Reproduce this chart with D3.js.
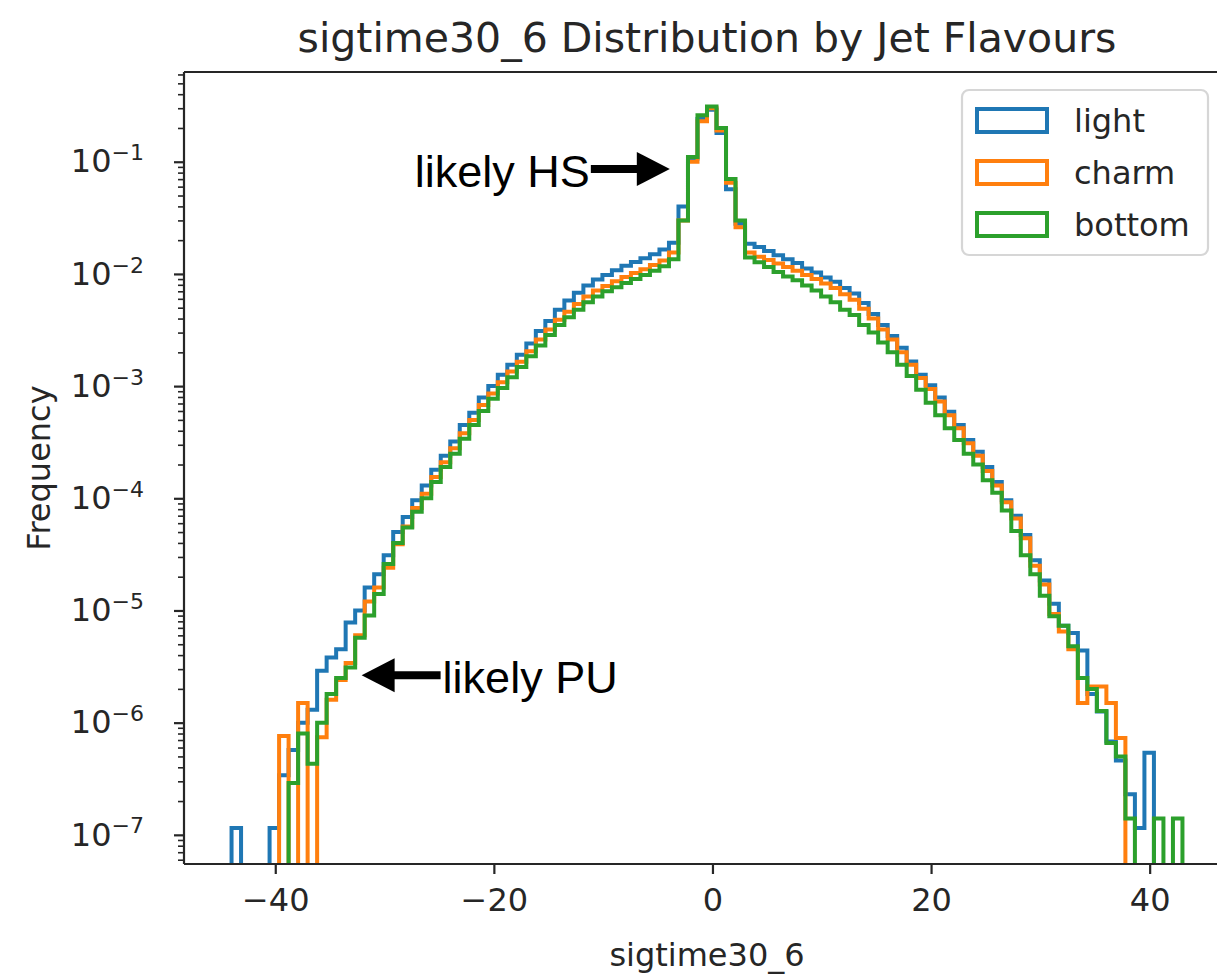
<!DOCTYPE html>
<html>
<head>
    <meta charset="utf-8">
    <title>sigtime30_6 Distribution by Jet Flavours</title>
    <style type="text/css">
        body {
            margin: 0;
            background: #ffffff;
        }

        svg text {
            font-family: "DejaVu Sans", sans-serif;
            fill: #262626;
        }

        .note {
            font-family: "Liberation Sans", Arial, sans-serif;
            fill: #000000;
        }

        .hist-line {
            fill: none;
            stroke-width: 4px;
            stroke-linejoin: miter;
        }
    </style>
</head>
<body>
    <div id="chart"></div>
    <script src="https://cdn.jsdelivr.net/npm/d3@7"></script>
    <script>

      //  Histogram binning (100 bins shared by all flavours)
      var binStart = -44,
          binEnd = 43,
          binCount = 100;

      var flavours = ["light", "charm", "bottom"];
      var flavourColors = ["#1f77b4", "#ff7f0e", "#2ca02c"];

      //  Normalised frequency per bin (0 = empty bin)
      var lightValues = [
        1.15e-7, 0, 0, 0, 1.15e-7, 3.4e-7, 5.7e-7, 1.0e-6, 1.3e-6, 2.9e-6,
        3.8e-6, 4.5e-6, 7.8e-6, 1.0e-5, 1.6e-5, 2.1e-5, 3.1e-5, 5.0e-5, 6.8e-5, 9.6e-5,
        1.3e-4, 1.8e-4, 2.4e-4, 3.2e-4, 4.5e-4, 5.8e-4, 7.9e-4, 1.0e-3, 1.26e-3, 1.55e-3,
        1.9e-3, 2.4e-3, 3.1e-3, 3.8e-3, 4.8e-3, 5.8e-3, 6.8e-3, 7.9e-3, 8.9e-3, 9.8e-3,
        1.08e-2, 1.18e-2, 1.28e-2, 1.38e-2, 1.5e-2, 1.65e-2, 1.9e-2, 4.0e-2, 0.107, 0.24,
        0.29, 0.18, 0.057, 0.028, 0.0186, 0.0174, 0.016, 0.0147, 0.0135, 0.0125,
        0.0112, 0.0103, 0.0093, 0.0085, 0.0075, 0.0067, 0.0055, 0.0044, 0.0035, 0.0028,
        0.0022, 0.00166, 0.00126, 0.00102, 7.9e-4, 5.9e-4, 4.5e-4, 3.3e-4, 2.6e-4, 1.9e-4,
        1.4e-4, 9.6e-5, 7.0e-5, 4.7e-5, 2.8e-5, 1.85e-5, 1.15e-5, 7.3e-6, 6.3e-6, 4.4e-6,
        1.8e-6, 1.26e-6, 6.8e-7, 4.6e-7, 2.3e-7, 1.15e-7, 5.4e-7, 0, 0, 0
      ];

      var charmValues = [
        0, 0, 0, 0, 0, 7.6e-7, 0, 1.5e-6, 0, 7.4e-7,
        1.6e-6, 2.4e-6, 3.4e-6, 6.0e-6, 1.2e-5, 1.6e-5, 2.4e-5, 3.9e-5, 5.6e-5, 8.2e-5,
        1.1e-4, 1.55e-4, 2.1e-4, 2.8e-4, 3.8e-4, 5.0e-4, 6.8e-4, 8.6e-4, 1.08e-3, 1.35e-3,
        1.65e-3, 2.05e-3, 2.6e-3, 3.2e-3, 3.9e-3, 4.6e-3, 5.4e-3, 6.3e-3, 7.1e-3, 7.8e-3,
        8.6e-3, 9.4e-3, 1.02e-2, 1.1e-2, 1.2e-2, 1.32e-2, 1.55e-2, 3.0e-2, 0.10, 0.23,
        0.30, 0.19, 0.065, 0.026, 0.0155, 0.0142, 0.0133, 0.0124, 0.0115, 0.0107,
        0.0098, 0.0090, 0.0082, 0.0075, 0.0066, 0.0059, 0.0049, 0.0040, 0.0032, 0.0026,
        0.0020, 0.00155, 0.00118, 9.4e-4, 7.3e-4, 5.5e-4, 4.2e-4, 3.1e-4, 2.4e-4, 1.75e-4,
        1.3e-4, 9.2e-5, 6.6e-5, 4.4e-5, 2.5e-5, 1.7e-5, 9.3e-6, 6.5e-6, 4.5e-6, 1.5e-6,
        2.1e-6, 2.1e-6, 1.5e-6, 7.3e-7, 0, 0, 0, 0, 0, 0
      ];

      var bottomValues = [
        0, 0, 0, 0, 0, 0, 2.9e-7, 8.0e-7, 4.3e-7, 1.0e-6,
        1.8e-6, 2.5e-6, 3.1e-6, 5.7e-6, 9.0e-6, 1.4e-5, 2.6e-5, 4.0e-5, 5.5e-5, 7.6e-5,
        1.0e-4, 1.4e-4, 1.9e-4, 2.5e-4, 3.4e-4, 4.5e-4, 6.0e-4, 7.7e-4, 9.6e-4, 1.2e-3,
        1.48e-3, 1.85e-3, 2.3e-3, 2.85e-3, 3.5e-3, 4.1e-3, 4.8e-3, 5.6e-3, 6.3e-3, 7.0e-3,
        7.6e-3, 8.3e-3, 9.0e-3, 9.8e-3, 1.07e-2, 1.17e-2, 1.35e-2, 3.0e-2, 0.11, 0.26,
        0.31, 0.20, 0.07, 0.03, 0.014, 0.0127, 0.0115, 0.0104, 0.0095, 0.0088,
        0.0079, 0.0071, 0.0063, 0.0056, 0.0048, 0.0043, 0.0035, 0.0030, 0.00245, 0.0020,
        0.00155, 0.00123, 9.3e-4, 7.1e-4, 5.5e-4, 4.2e-4, 3.3e-4, 2.5e-4, 2.0e-4, 1.45e-4,
        1.12e-4, 7.8e-5, 5.1e-5, 3.1e-5, 2.1e-5, 1.35e-5, 8.9e-6, 7.3e-6, 4.8e-6, 2.5e-6,
        2.0e-6, 1.27e-6, 6.6e-7, 5.0e-7, 1.4e-7, 0, 0, 1.4e-7, 0, 1.4e-7
      ];

      var xTickValues = [-40, -20, 0, 20, 40];
      var yExponents = [-7, -6, -5, -4, -3, -2, -1];

      //  Hand-drawn annotations: arrow tip in data coordinates
      var notes = [
        { label: "likely HS", tipX: -3.9, tipY: 0.086, dir: 1 },
        { label: "likely PU", tipX: -32.1, tipY: 2.65e-6, dir: -1 }
      ];

      var width = 1217,
          height = 974,
          margin = { left: 184, right: 1230, top: 72, bottom: 864 };

      var svg = d3.select("#chart")
          .append("svg")
          .attr("width", width)
          .attr("height", height);

      //  Matplotlib-like limits: data range plus 5% margins
      var x = d3.scaleLinear()
          .domain([-48.35, 47.35])
          .range([margin.left, margin.right]);

      var y = d3.scaleLog()
          .domain([Math.pow(10, -7.26), Math.pow(10, -0.2)])
          .range([margin.bottom, margin.top]);

      var binWidth = (binEnd - binStart) / binCount;
      var edges = d3.range(binCount + 1).map((i) => binStart + i * binWidth);

      svg.append("clipPath").attr("id", "plot-clip")
        .append("rect")
          .attr("x", margin.left)
          .attr("y", margin.top)
          .attr("width", margin.right - margin.left)
          .attr("height", margin.bottom - margin.top);

      //  Step outline of a histogram; empty bins drop below the axis
      function stepPoints(values) {
        var yPix = (v) => v > 0 ? y(v) : margin.bottom + 200;
        var pts = [[x(edges[0]), margin.bottom + 200]];
        values.forEach(function (v, i) {
          pts.push([x(edges[i]), yPix(v)]);
          pts.push([x(edges[i + 1]), yPix(v)]);
        });
        pts.push([x(edges[binCount]), margin.bottom + 200]);
        return pts;
      }

      var series = [lightValues, charmValues, bottomValues];
      var line = d3.line();

      svg.append("g")
          .attr("clip-path", "url(#plot-clip)")
        .selectAll("path")
        .data(series)
        .enter().append("path")
          .attr("class", "hist-line")
          .attr("stroke", (d, i) => flavourColors[i])
          .attr("d", (d) => line(stepPoints(d)));

      //  Axes
      var tickColor = "#262626";

      var xAxis = svg.append("g")
          .attr("transform", "translate(0," + margin.bottom + ")")
          .call(d3.axisBottom(x)
            .tickValues(xTickValues)
            .tickSize(10)
            .tickPadding(14)
            .tickFormat((d) => d < 0 ? "\u2212" + Math.abs(d) : String(d)));
      xAxis.select(".domain").remove();
      xAxis.selectAll(".tick line").attr("stroke", tickColor).attr("stroke-width", 2.2);
      xAxis.selectAll(".tick text").style("font-size", "32px").attr("fill", tickColor);

      var yMajor = yExponents.map((e) => Math.pow(10, e));
      var yMinor = [];
      d3.range(-8, 0).forEach(function (e) {
        d3.range(2, 10).forEach(function (k) {
          var v = k * Math.pow(10, e);
          if (v >= y.domain()[0] && v <= y.domain()[1]) yMinor.push(v);
        });
      });

      var yMinorAxis = svg.append("g")
          .attr("transform", "translate(" + margin.left + ",0)")
          .call(d3.axisLeft(y).tickValues(yMinor).tickSize(6).tickFormat(""));
      yMinorAxis.select(".domain").remove();
      yMinorAxis.selectAll(".tick line").attr("stroke", tickColor).attr("stroke-width", 1.6);

      var yAxis = svg.append("g")
          .attr("transform", "translate(" + margin.left + ",0)")
          .call(d3.axisLeft(y).tickValues(yMajor).tickSize(10).tickPadding(30).tickFormat(""));
      yAxis.select(".domain").remove();
      yAxis.selectAll(".tick line").attr("stroke", tickColor).attr("stroke-width", 2.2);

      //  Log labels as 10 with a superscript exponent
      yAxis.selectAll(".tick text").each(function (d) {
        var t = d3.select(this).attr("fill", tickColor).attr("dy", "0.32em").style("font-size", "32px");
        t.append("tspan").text("10");
        t.append("tspan")
          .attr("dy", "-0.55em")
          .style("font-size", "22px")
          .text("\u2212" + Math.abs(Math.round(Math.log10(d))));
      });

      //  Spines: left, bottom and top (right one falls outside the picture)
      var spines = svg.append("g").attr("stroke", tickColor).attr("stroke-width", 2.2);
      spines.append("line").attr("x1", margin.left).attr("x2", margin.left)
          .attr("y1", margin.top).attr("y2", margin.bottom);
      spines.append("line").attr("x1", margin.left).attr("x2", margin.right)
          .attr("y1", margin.bottom).attr("y2", margin.bottom);
      spines.append("line").attr("x1", margin.left).attr("x2", margin.right)
          .attr("y1", margin.top).attr("y2", margin.top);

      //  Titles and axis labels
      svg.append("text")
          .attr("x", (margin.left + margin.right) / 2)
          .attr("y", 52)
          .attr("text-anchor", "middle")
          .style("font-size", "41px")
          .text("sigtime30_6 Distribution by Jet Flavours");

      svg.append("text")
          .attr("x", (margin.left + margin.right) / 2)
          .attr("y", 966)
          .attr("text-anchor", "middle")
          .style("font-size", "32px")
          .text("sigtime30_6");

      svg.append("text")
          .attr("transform", "translate(50," + (margin.top + margin.bottom) / 2 + ") rotate(-90)")
          .attr("text-anchor", "middle")
          .style("font-size", "32px")
          .text("Frequency");

      //  Legend
      var legend = svg.append("g").attr("transform", "translate(962,90)");
      legend.append("rect")
          .attr("width", 246)
          .attr("height", 165)
          .attr("rx", 7)
          .attr("fill", "rgba(255,255,255,0.8)")
          .attr("stroke", "#d6d6d6")
          .attr("stroke-width", 2.2);

      var entries = legend.selectAll(".entry")
          .data(flavours)
          .enter().append("g")
          .attr("class", "entry")
          .attr("transform", (d, i) => "translate(0," + (i * 52) + ")");

      entries.append("rect")
          .attr("x", 15)
          .attr("y", 19)
          .attr("width", 70)
          .attr("height", 23)
          .attr("fill", "none")
          .attr("stroke-width", 4)
          .attr("stroke", (d, i) => flavourColors[i]);

      entries.append("text")
          .attr("x", 112)
          .attr("y", 42)
          .style("font-size", "32px")
          .text((d) => d);

      //  Annotations with thick black arrows
      notes.forEach(function (n) {
        var tx = x(n.tipX),
            ty = y(n.tipY),
            headLen = 33,
            headHalf = 17,
            shaftLen = 46;
        var g = svg.append("g");
        var baseX = tx - n.dir * headLen,
            tailX = baseX - n.dir * shaftLen;
        g.append("line")
            .attr("x1", tailX).attr("x2", baseX + n.dir * 2)
            .attr("y1", ty).attr("y2", ty)
            .attr("stroke", "#000").attr("stroke-width", 8);
        g.append("polygon")
            .attr("points", [[tx, ty], [baseX, ty - headHalf], [baseX, ty + headHalf]].join(" "))
            .attr("fill", "#000");
        g.append("text")
            .attr("class", "note")
            .attr("x", tailX + (n.dir > 0 ? -1 : 2))
            .attr("y", ty + 18)
            .attr("text-anchor", n.dir > 0 ? "end" : "start")
            .style("font-size", "45px")
            .text(n.label);
      });

    </script>
</body>
</html>
